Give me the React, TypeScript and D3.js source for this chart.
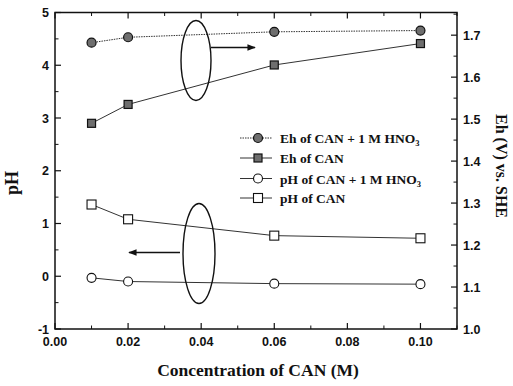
import React from "react";
import * as d3 from "d3";

const conc = [0.01, 0.02, 0.06, 0.1];
const ehHNO3 = [1.682, 1.695, 1.708, 1.711];
const ehCAN = [1.49, 1.535, 1.629, 1.68];
const phCAN = [1.36, 1.08, 0.77, 0.72];
const phHNO3 = [-0.03, -0.1, -0.14, -0.15];
const xTicks = [0, 0.02, 0.04, 0.06, 0.08, 0.1];
const xMinor = [0.01, 0.03, 0.05, 0.07, 0.09, 0.11];
const leftTicks = [-1, 0, 1, 2, 3, 4, 5];
const rightTicks = [1.0, 1.1, 1.2, 1.3, 1.4, 1.5, 1.6, 1.7];
const legendLabels = ["Eh of CAN + 1 M HNO", "Eh of CAN", "pH of CAN + 1 M HNO", "pH of CAN"];

const L = 55, R = 457, T = 12.5, B = 329;

export default function App() {
  const x = d3.scaleLinear().domain([0, 0.11]).range([L, R]);
  const yL = d3.scaleLinear().domain([-1, 5]).range([B, T]);
  const yR = d3.scaleLinear().domain([1.0, 1.754]).range([B, T]);
  const line = (ys: number[], yS: d3.ScaleLinear<number, number>) =>
    d3.line<number>().x((_, i) => x(conc[i])).y((v) => yS(v))(ys) || "";
  const sans = "'Liberation Sans', Arial, sans-serif";
  const serif = "'Liberation Serif', 'Times New Roman', serif";
  const markerFill = "#6e6e6e";
  const legY = [138, 158, 178.5, 198];
  const lx = 240;

  const marker = (kind: string, cx: number, cy: number, key: any) => {
    if (kind === "fc") return <circle key={key} cx={cx} cy={cy} r={4.5} fill={markerFill} stroke="#111" strokeWidth={1.2} />;
    if (kind === "fs") return <rect key={key} x={cx - 4} y={cy - 4} width={8} height={8} fill={markerFill} stroke="#111" strokeWidth={1.2} />;
    if (kind === "oc") return <circle key={key} cx={cx} cy={cy} r={4.5} fill="#fff" stroke="#111" strokeWidth={1.1} />;
    return <rect key={key} x={cx - 4.5} y={cy - 4.5} width={9} height={9} fill="#fff" stroke="#111" strokeWidth={1.1} />;
  };

  const series = [
    { ys: ehHNO3, s: yR, kind: "fc", dash: "1.5,1" },
    { ys: ehCAN, s: yR, kind: "fs", dash: "" },
    { ys: phHNO3, s: yL, kind: "oc", dash: "" },
    { ys: phCAN, s: yL, kind: "os", dash: "" },
  ];

  return (
    <svg width={513} height={386} style={{ position: "absolute", left: 0, top: 0, background: "#fff" }}>
      <defs>
        <marker id="ah" viewBox="0 0 10 10" refX="9" refY="5" markerWidth="6" markerHeight="6" orient="auto">
          <path d="M0,1 L10,5 L0,9 z" fill="#111" />
        </marker>
      </defs>
      {/* ticks */}
      {xTicks.map((t, i) => (
        <g key={"xt" + i}>
          <line x1={x(t)} x2={x(t)} y1={B} y2={B - 6} stroke="#111" strokeWidth={1.2} />
          <line x1={x(t)} x2={x(t)} y1={T} y2={T + 6} stroke="#111" strokeWidth={1.2} />
          <text x={x(t)} y={B + 17} textAnchor="middle" fontFamily={sans} fontWeight="bold" fontSize={12.5} fill="#111">
            {t.toFixed(2)}
          </text>
        </g>
      ))}
      {xMinor.map((t, i) => (
        <g key={"xm" + i}>
          <line x1={x(t)} x2={x(t)} y1={B} y2={B - 3.5} stroke="#111" strokeWidth={1} />
          <line x1={x(t)} x2={x(t)} y1={T} y2={T + 3.5} stroke="#111" strokeWidth={1} />
        </g>
      ))}
      {leftTicks.map((t, i) => (
        <g key={"yl" + i}>
          <line x1={L} x2={L + 6} y1={yL(t)} y2={yL(t)} stroke="#111" strokeWidth={1.2} />
          {t < 5 && <line x1={L} x2={L + 3.5} y1={yL(t + 0.5)} y2={yL(t + 0.5)} stroke="#111" strokeWidth={1} />}
          <text x={L - 6} y={yL(t) + 4.5} textAnchor="end" fontFamily={sans} fontWeight="bold" fontSize={12.5} fill="#111">
            {t}
          </text>
        </g>
      ))}
      {rightTicks.map((t, i) => (
        <g key={"yr" + i}>
          <line x1={R} x2={R - 6} y1={yR(t)} y2={yR(t)} stroke="#111" strokeWidth={1.2} />
          <line x1={R} x2={R - 3.5} y1={yR(t + 0.05)} y2={yR(t + 0.05)} stroke="#111" strokeWidth={1} />
          <text x={R + 6} y={yR(t) + 4.5} textAnchor="start" fontFamily={sans} fontWeight="bold" fontSize={12.5} fill="#111">
            {t.toFixed(1)}
          </text>
        </g>
      ))}
      <rect x={L} y={T} width={R - L} height={B - T} fill="none" stroke="#111" strokeWidth={1.5} />

      {/* series */}
      {series.map((s, i) => (
        <g key={"s" + i}>
          <path d={line(s.ys, s.s)} fill="none" stroke="#333" strokeWidth={1} strokeDasharray={s.dash || undefined} />
          {s.ys.map((v, j) => marker(s.kind, x(conc[j]), s.s(v), j))}
        </g>
      ))}

      {/* ellipses and arrows */}
      <ellipse cx={196} cy={60.5} rx={15} ry={40} fill="none" stroke="#111" strokeWidth={1.4} />
      <line x1={211} y1={47.5} x2={255} y2={47.5} stroke="#111" strokeWidth={1.4} markerEnd="url(#ah)" />
      <ellipse cx={199} cy={253.5} rx={16} ry={50} fill="none" stroke="#111" strokeWidth={1.4} />
      <line x1={180} y1={252.5} x2={129} y2={252.5} stroke="#111" strokeWidth={1.4} markerEnd="url(#ah)" />

      {/* legend */}
      {series.map((s, i) => (
        <g key={"lg" + i}>
          <line x1={lx} x2={lx + 32} y1={legY[i]} y2={legY[i]} stroke="#333" strokeWidth={1} strokeDasharray={s.dash || undefined} />
          {marker(s.kind, lx + 18, legY[i], "m")}
          <text x={lx + 40} y={legY[i] + 5} fontFamily={serif} fontWeight="bold" fontSize={13.5} fill="#111">
            {legendLabels[i]}
            {(i === 0 || i === 2) && <tspan fontSize={8.5} dy={3}>3</tspan>}
          </text>
        </g>
      ))}

      {/* axis titles */}
      <text x={258} y={376} textAnchor="middle" fontFamily={serif} fontWeight="bold" fontSize={17.5} fill="#111">
        Concentration of CAN (M)
      </text>
      <text transform={`translate(18,183) rotate(-90)`} textAnchor="middle" fontFamily={serif} fontWeight="bold" fontSize={18} fill="#111">
        pH
      </text>
      <text transform={`translate(496,166) rotate(90)`} textAnchor="middle" fontFamily={serif} fontWeight="bold" fontSize={16} fill="#111">
        Eh (V) vs. SHE
      </text>
    </svg>
  );
}
